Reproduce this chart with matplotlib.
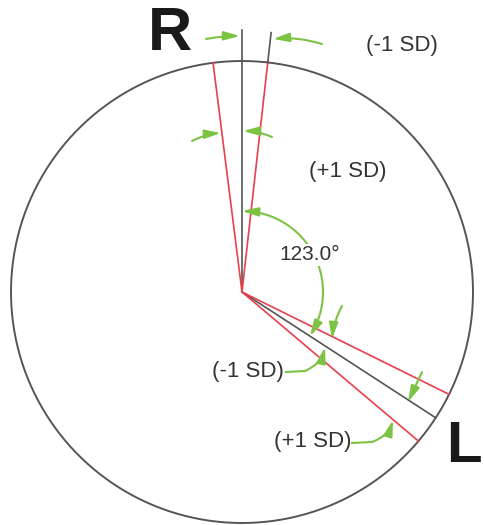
import numpy as np
import matplotlib
matplotlib.use("Agg")
import matplotlib.pyplot as plt

# ---- data (angles in degrees, clockwise from straight up) ----
r_mean_angle = 0.0
r_sd_angles = [-7.2, 6.4]          # red lines around R axis
l_mean_angle = 123.0
l_sd_angles = [116.3, 130.2]       # red lines around L axis
angle_label = "123.0°"
side_labels = ["R", "L"]
sd_labels = ["(-1 SD)", "(+1 SD)", "(-1 SD)", "(+1 SD)"]

# ---- geometry / styles ----
cx, cy, rad = 242, 292, 231
GRAY = "#555555"
RED = "#e8404a"
GREEN = "#7cc243"
TXT = "#333333"
FONT = "Liberation Sans"

fig = plt.figure(figsize=(4.84, 5.25), dpi=100)
ax = fig.add_axes([0, 0, 1, 1])
ax.set_xlim(0, 484)
ax.set_ylim(525, 0)
ax.set_aspect("equal")
ax.axis("off")


def pt(theta, r):
    t = np.radians(theta)
    return cx + r * np.sin(t), cy - r * np.cos(t)


# circle
th = np.linspace(0, 360, 721)
xs, ys = pt(th, rad)
ax.plot(xs, ys, color=GRAY, lw=1.4)

# R side lines
x1, y1 = pt(r_mean_angle, rad + 31)
ax.plot([cx, x1], [cy, y1], color=GRAY, lw=1.2)
for a in r_sd_angles:
    x1, y1 = pt(a, rad)
    ax.plot([cx, x1], [cy, y1], color=RED, lw=1.2)
# black extension beyond the right red line
xa, ya = pt(r_sd_angles[1], rad)
xb, yb = pt(r_sd_angles[1], rad + 30)
ax.plot([xa, xb], [ya, yb], color=GRAY, lw=1.2)

# L side lines
x1, y1 = pt(l_mean_angle, rad)
ax.plot([cx, x1], [cy, y1], color=GRAY, lw=1.2)
for a in l_sd_angles:
    x1, y1 = pt(a, rad)
    ax.plot([cx, x1], [cy, y1], color=RED, lw=1.2)

AST = "-|>,head_length=0.8,head_width=0.22"


def arrow(tail, tip, rad_c=0.0):
    ax.annotate("", xy=tip, xytext=tail,
                arrowprops=dict(arrowstyle=AST, color=GREEN, lw=1.5,
                                mutation_scale=12, shrinkA=0, shrinkB=0,
                                connectionstyle=f"arc3,rad={rad_c}"))


# angle arc
arc_r = 81
aa = np.linspace(r_mean_angle + 3, l_mean_angle - 4, 200)
axs, ays = pt(aa, arc_r)
ax.plot(axs, ays, color=GREEN, lw=1.5)
arrow(pt(r_mean_angle + 6, arc_r), pt(r_mean_angle, arc_r))
arrow(pt(l_mean_angle - 7, arc_r), pt(l_mean_angle, arc_r))

# R-side dimension arrows
arrow((206, 39), (240, 36), -0.05)
arrow((322, 44), (273, 39), 0.1)
arrow((192, 141), (221, 133), -0.1)
arrow((272, 137), (243, 131), 0.1)

# L-side arrows
arrow((342, 306), (332, 339), 0.1)
arrow((422, 372), (408, 402), 0.0)
ax.plot([286, 305], [372, 371], color=GREEN, lw=1.5)
arrow((305, 371), (325, 347), 0.25)
ax.plot([352, 372], [443, 442], color=GREEN, lw=1.5)
arrow((372, 442), (393, 420), 0.25)

# texts
ax.text(cx + 68, 255, angle_label, fontsize=15, family=FONT, color=TXT,
        ha="center", va="center",
        bbox=dict(boxstyle="square,pad=0.05", fc="white", ec="none"))
ax.text(402, 46, sd_labels[0], fontsize=16, family=FONT, color=TXT,
        ha="center", va="center")
ax.text(348, 172, sd_labels[1], fontsize=16, family=FONT, color=TXT,
        ha="center", va="center")
ax.text(284, 372, sd_labels[2], fontsize=16, family=FONT, color=TXT,
        ha="right", va="center")
ax.text(351, 442, sd_labels[3], fontsize=16, family=FONT, color=TXT,
        ha="right", va="center")
ax.text(170, 34, side_labels[0], fontsize=44, family=FONT, weight="bold",
        color="#1a1a1a", ha="center", va="center")
ax.text(482, 447, side_labels[1], fontsize=42, family=FONT, weight="bold",
        color="#1a1a1a", ha="right", va="center")

fig.savefig("out.png", dpi=100)
